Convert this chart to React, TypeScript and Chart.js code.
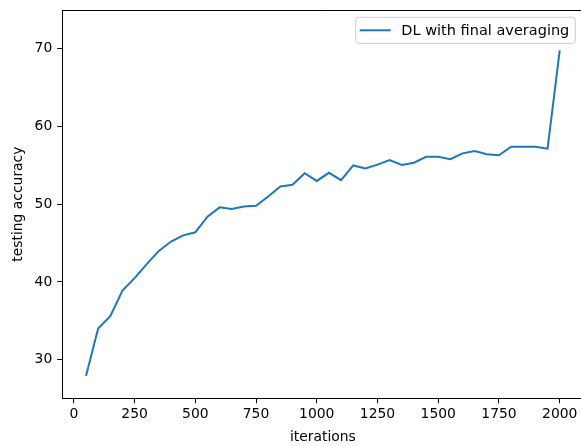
import React, { useEffect, useRef } from "react";
import { Chart, registerables } from "chart.js";

Chart.register(...registerables);

const iterations = [
  50, 100, 150, 200, 250, 300, 350, 400, 450, 500,
  550, 600, 650, 700, 750, 800, 850, 900, 950, 1000,
  1050, 1100, 1150, 1200, 1250, 1300, 1350, 1400, 1450, 1500,
  1550, 1600, 1650, 1700, 1750, 1800, 1850, 1900, 1950, 2000,
];
const accuracy = [
  27.9, 34.0, 35.6, 38.9, 40.5, 42.3, 44.0, 45.2, 46.0, 46.4,
  48.4, 49.6, 49.4, 49.7, 49.8, 51.0, 52.3, 52.5, 54.0, 53.0,
  54.05, 53.1, 55.0, 54.6, 55.1, 55.7, 55.05, 55.35, 56.1, 56.1,
  55.8, 56.55, 56.85, 56.45, 56.3, 57.4, 57.4, 57.4, 57.15, 69.8,
];
const xTicks = [0, 250, 500, 750, 1000, 1250, 1500, 1750, 2000];
const yTicks = [30, 40, 50, 60, 70];
const seriesLabel = "DL with final averaging";
const xTitle = "iterations";
const yTitle = "testing accuracy";

const FONT = "DejaVu Sans";
const FS = 13.9;
const LEGEND_FS = 14.5;
const LINE_COLOR = "#1f77b4";

const spinesPlugin = {
  id: "spines",
  afterDraw(chart: any) {
    const { ctx, chartArea } = chart;
    ctx.save();
    ctx.strokeStyle = "#000";
    ctx.lineWidth = 1;
    ctx.beginPath();
    ctx.moveTo(chartArea.left, Math.round(chartArea.top) + 0.5);
    ctx.lineTo(chartArea.right, Math.round(chartArea.top) + 0.5);
    ctx.moveTo(Math.round(chartArea.right) + 0.5, chartArea.top);
    ctx.lineTo(Math.round(chartArea.right) + 0.5, chartArea.bottom);
    ctx.stroke();
    ctx.restore();
  },
};

const legendPlugin = {
  id: "insideLegend",
  afterDraw(chart: any) {
    const { ctx, chartArea } = chart;
    const ds = chart.data.datasets[0];
    ctx.save();
    ctx.font = `${LEGEND_FS}px "${FONT}"`;
    const tw = ctx.measureText(ds.label).width;
    const h = 26;
    const w = 45.7 + tw + 6;
    const right = 575.3;
    const x = right - w;
    const y = chartArea.top + 7.3;
    const r = 3;
    ctx.beginPath();
    ctx.moveTo(x + r, y);
    ctx.lineTo(x + w - r, y);
    ctx.arcTo(x + w, y, x + w, y + r, r);
    ctx.lineTo(x + w, y + h - r);
    ctx.arcTo(x + w, y + h, x + w - r, y + h, r);
    ctx.lineTo(x + r, y + h);
    ctx.arcTo(x, y + h, x, y + h - r, r);
    ctx.lineTo(x, y + r);
    ctx.arcTo(x, y, x + r, y, r);
    ctx.closePath();
    ctx.fillStyle = "rgba(255,255,255,0.8)";
    ctx.fill();
    ctx.strokeStyle = "#cccccc";
    ctx.lineWidth = 1;
    ctx.stroke();
    ctx.beginPath();
    ctx.strokeStyle = ds.borderColor;
    ctx.lineWidth = 2;
    ctx.moveTo(x + 4, y + h / 2);
    ctx.lineTo(x + 35, y + h / 2);
    ctx.stroke();
    ctx.fillStyle = "#000";
    ctx.textBaseline = "middle";
    ctx.textAlign = "left";
    ctx.fillText(ds.label, x + 45.7, y + h / 2 + 0.5);
    ctx.restore();
  },
};

export default function App() {
  const ref = useRef<HTMLCanvasElement | null>(null);
  useEffect(() => {
    if (!ref.current) return;
    const chart = new Chart(ref.current, {
      type: "line",
      data: {
        datasets: [
          {
            label: seriesLabel,
            data: iterations.map((x, i) => ({ x, y: accuracy[i] })),
            borderColor: LINE_COLOR,
            backgroundColor: LINE_COLOR,
            borderWidth: 2,
            pointRadius: 0,
            tension: 0,
            fill: false,
          },
        ],
      },
      options: {
        responsive: false,
        animation: false,
        devicePixelRatio: 1,
        layout: { padding: { top: 10, right: 16.6, left: 0, bottom: 0 } },
        plugins: {
          legend: { display: false },
          tooltip: { enabled: false },
        },
        scales: {
          x: {
            type: "linear",
            min: -47.5,
            max: 2097.5,
            afterBuildTicks: (s: any) => {
              s.ticks = xTicks.map((v) => ({ value: v }));
            },
            afterFit: (s: any) => {
              s.height = 47.7;
              s.paddingLeft = 0;
              s.paddingRight = 0;
            },
            ticks: {
              callback: (v: any) => String(v),
              color: "#000",
              font: { family: FONT, size: FS },
              padding: 3,
              maxRotation: 0,
              autoSkip: false,
            },
            grid: {
              display: true,
              drawOnChartArea: false,
              drawTicks: true,
              tickLength: 5,
              color: "#000",
            },
            border: { display: true, color: "#000", width: 1 },
            title: {
              display: true,
              text: xTitle,
              color: "#000",
              font: { family: FONT, size: FS },
              padding: { top: 2, bottom: 0 },
            },
          },
          y: {
            type: "linear",
            min: 25.03,
            max: 75.0,
            afterBuildTicks: (s: any) => {
              s.ticks = yTicks.map((v) => ({ value: v }));
            },
            afterFit: (s: any) => {
              s.width = 62.3;
              s.paddingTop = 0;
              s.paddingBottom = 0;
            },
            ticks: {
              callback: (v: any) => String(v),
              color: "#000",
              font: { family: FONT, size: FS },
              padding: 5,
            },
            grid: {
              display: true,
              drawOnChartArea: false,
              drawTicks: true,
              tickLength: 5,
              color: "#000",
            },
            border: { display: true, color: "#000", width: 1 },
            title: {
              display: true,
              text: yTitle,
              color: "#000",
              font: { family: FONT, size: FS },
              padding: { top: 10, bottom: 0 },
            },
          },
        },
      },
      plugins: [spinesPlugin, legendPlugin],
    } as any);
    return () => chart.destroy();
  }, []);
  return (
    <div style={{ position: "fixed", left: 0, top: 0, width: 600, height: 446, overflow: "hidden", background: "#fff" }}>
      <canvas ref={ref} width={600} height={446} style={{ display: "block" }} />
    </div>
  );
}
